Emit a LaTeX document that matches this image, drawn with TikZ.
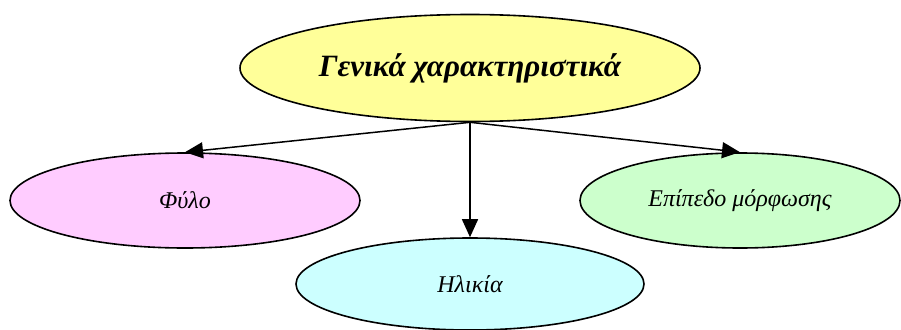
\documentclass[tikz,border=0pt]{standalone}
\usepackage{fontspec}
\setmainfont{Liberation Serif}
\usetikzlibrary{arrows.meta,shapes.geometric}

\begin{document}
\begin{tikzpicture}[x=1pt, y=-1pt,
  topic/.style={draw, ellipse, line width=1.6pt, inner sep=0pt, align=center,
                font=\fontsize{24}{28}\selectfont\itshape},
  arrow/.style={-{Triangle[length=18pt, width=16pt]}, line width=1.5pt}
]
\useasboundingbox (0,0) rectangle (901,329);
\clip (0,0) rectangle (901,329);
\definecolor{topyellow}{HTML}{FFFF99}
\definecolor{sexpink}{HTML}{FFCCFF}
\definecolor{agecyan}{HTML}{CCFFFF}
\definecolor{edugreen}{HTML}{CCFFCC}

\node[topic, fill=topyellow, minimum width=460pt, minimum height=107pt,
      font=\fontsize{31}{35}\selectfont\bfseries\itshape] (general) at (470,68) {Γενικά χαρακτηριστικά};
\node[topic, fill=sexpink, minimum width=350pt, minimum height=95pt] (sex) at (185,200.5) {Φύλο};
\node[topic, fill=edugreen, minimum width=320pt, minimum height=95pt] (education) at (740,200.5) {Επίπεδο μόρφωσης};
\node[topic, fill=agecyan, minimum width=348pt, minimum height=92pt] (age) at (470,284) {Ηλικία};

\draw[arrow] (general.south) -- (sex.north);
\draw[arrow] (general.south) -- (age.north);
\draw[arrow] (general.south) -- (education.north);
\end{tikzpicture}
\end{document}
